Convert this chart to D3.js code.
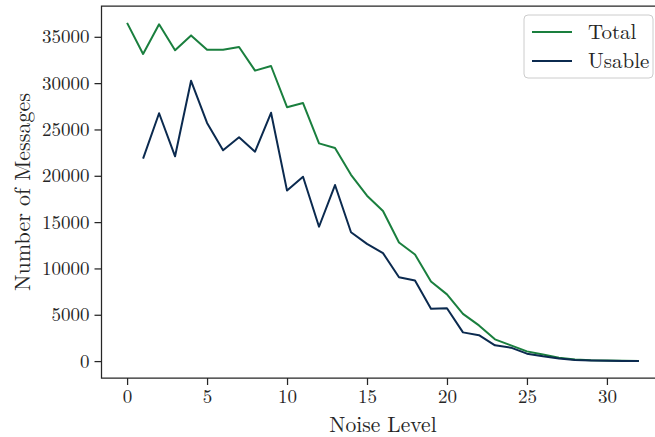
<!DOCTYPE html>
<html>
<head>
<meta charset="utf-8">
<script src="https://cdn.jsdelivr.net/npm/d3@7"></script>
<style>
  html, body { margin: 0; padding: 0; background: #fff; }
  svg { display: block; }
  text { font-family: "Latin Modern Roman", "CMU Serif", "Liberation Serif", serif; fill: #262626; }
</style>
</head>
<body>
<svg id="chart" width="655" height="437"></svg>
<script>
// Message counts per noise level
const noiseLevels = d3.range(0, 33);
const totalCounts = [36500, 33150, 36350, 33550, 35150, 33600, 33600, 33900, 31350, 31850,
  27400, 27850, 23500, 23000, 20100, 17850, 16200, 12800, 11500, 8600,
  7200, 5100, 3850, 2350, 1700, 1050, 700, 350, 180, 100, 60, 40, 20];
// Usable counts begin at noise level 1
const usableLevels = d3.range(1, 33);
const usableCounts = [21850, 26750, 22100, 30250, 25700, 22750, 24150, 22600, 26800,
  18400, 19900, 14500, 19000, 13900, 12650, 11650, 9050, 8700, 5650,
  5700, 3100, 2800, 1700, 1450, 800, 520, 280, 130, 70, 40, 20, 10];
const xTicks = [0, 5, 10, 15, 20, 25, 30];
const yTicks = [0, 5000, 10000, 15000, 20000, 25000, 30000, 35000];
const seriesNames = ["Total", "Usable"];
const seriesColors = ["#1a7f3e", "#0b2a4f"];

const svg = d3.select("#chart");
const plot = { left: 101.5, right: 664.5, top: 6, bottom: 378 };
const fontStack = '"Latin Modern Roman", "CMU Serif", "Liberation Serif", serif';

const x = d3.scaleLinear().domain([-1.6, 33.6]).range([plot.left, plot.right]);
const yMax = 36500, yPad = yMax * 0.05;
const y = d3.scaleLinear().domain([-yPad, yMax + yPad]).range([plot.bottom, plot.top]);

const line = d3.line().x(d => x(d[0])).y(d => y(d[1]));

const series = [
  d3.zip(noiseLevels, totalCounts),
  d3.zip(usableLevels, usableCounts)
];

svg.selectAll("path.series")
  .data(series)
  .join("path")
  .attr("class", "series")
  .attr("fill", "none")
  .attr("stroke", (d, i) => seriesColors[i])
  .attr("stroke-width", 2)
  .attr("stroke-linejoin", "round")
  .attr("d", line);

// Axes
const xAxis = svg.append("g")
  .attr("transform", `translate(0,${plot.bottom})`)
  .call(d3.axisBottom(x).tickValues(xTicks).tickSize(7).tickPadding(5));
const yAxis = svg.append("g")
  .attr("transform", `translate(${plot.left},0)`)
  .call(d3.axisLeft(y).tickValues(yTicks).tickFormat(d3.format("d")).tickSize(7).tickPadding(5));

[xAxis, yAxis].forEach(g => {
  g.select(".domain").remove();
  g.selectAll(".tick line").attr("stroke", "#262626").attr("stroke-width", 1.25);
  g.selectAll(".tick text").attr("font-size", 19).attr("fill", "#262626")
    .style("font-family", fontStack);
});

// Spines: left, bottom, top
svg.append("path")
  .attr("d", `M${plot.right},${plot.top}H${plot.left}V${plot.bottom}H${plot.right}`)
  .attr("fill", "none")
  .attr("stroke", "#262626")
  .attr("stroke-width", 1.25);

// Axis titles
svg.append("text")
  .attr("x", (plot.left + plot.right) / 2)
  .attr("y", 432)
  .attr("text-anchor", "middle")
  .attr("font-size", 21.5)
  .text("Noise Level");
svg.append("text")
  .attr("transform", `translate(30,${(plot.top + plot.bottom) / 2}) rotate(-90)`)
  .attr("text-anchor", "middle")
  .attr("font-size", 22)
  .text("Number of Messages");

// Legend
const legend = svg.append("g").attr("transform", "translate(524,15)");
legend.append("rect")
  .attr("width", 129).attr("height", 63)
  .attr("rx", 4)
  .attr("fill", "#fff").attr("fill-opacity", 0.8)
  .attr("stroke", "#cccccc").attr("stroke-width", 1);
seriesNames.forEach((name, i) => {
  const row = legend.append("g").attr("transform", `translate(0,${17 + i * 29})`);
  row.append("line")
    .attr("x1", 8).attr("x2", 48)
    .attr("stroke", seriesColors[i]).attr("stroke-width", 2);
  row.append("text")
    .attr("x", 64).attr("y", 7)
    .attr("font-size", 21)
    .text(name);
});
</script>
</body>
</html>
